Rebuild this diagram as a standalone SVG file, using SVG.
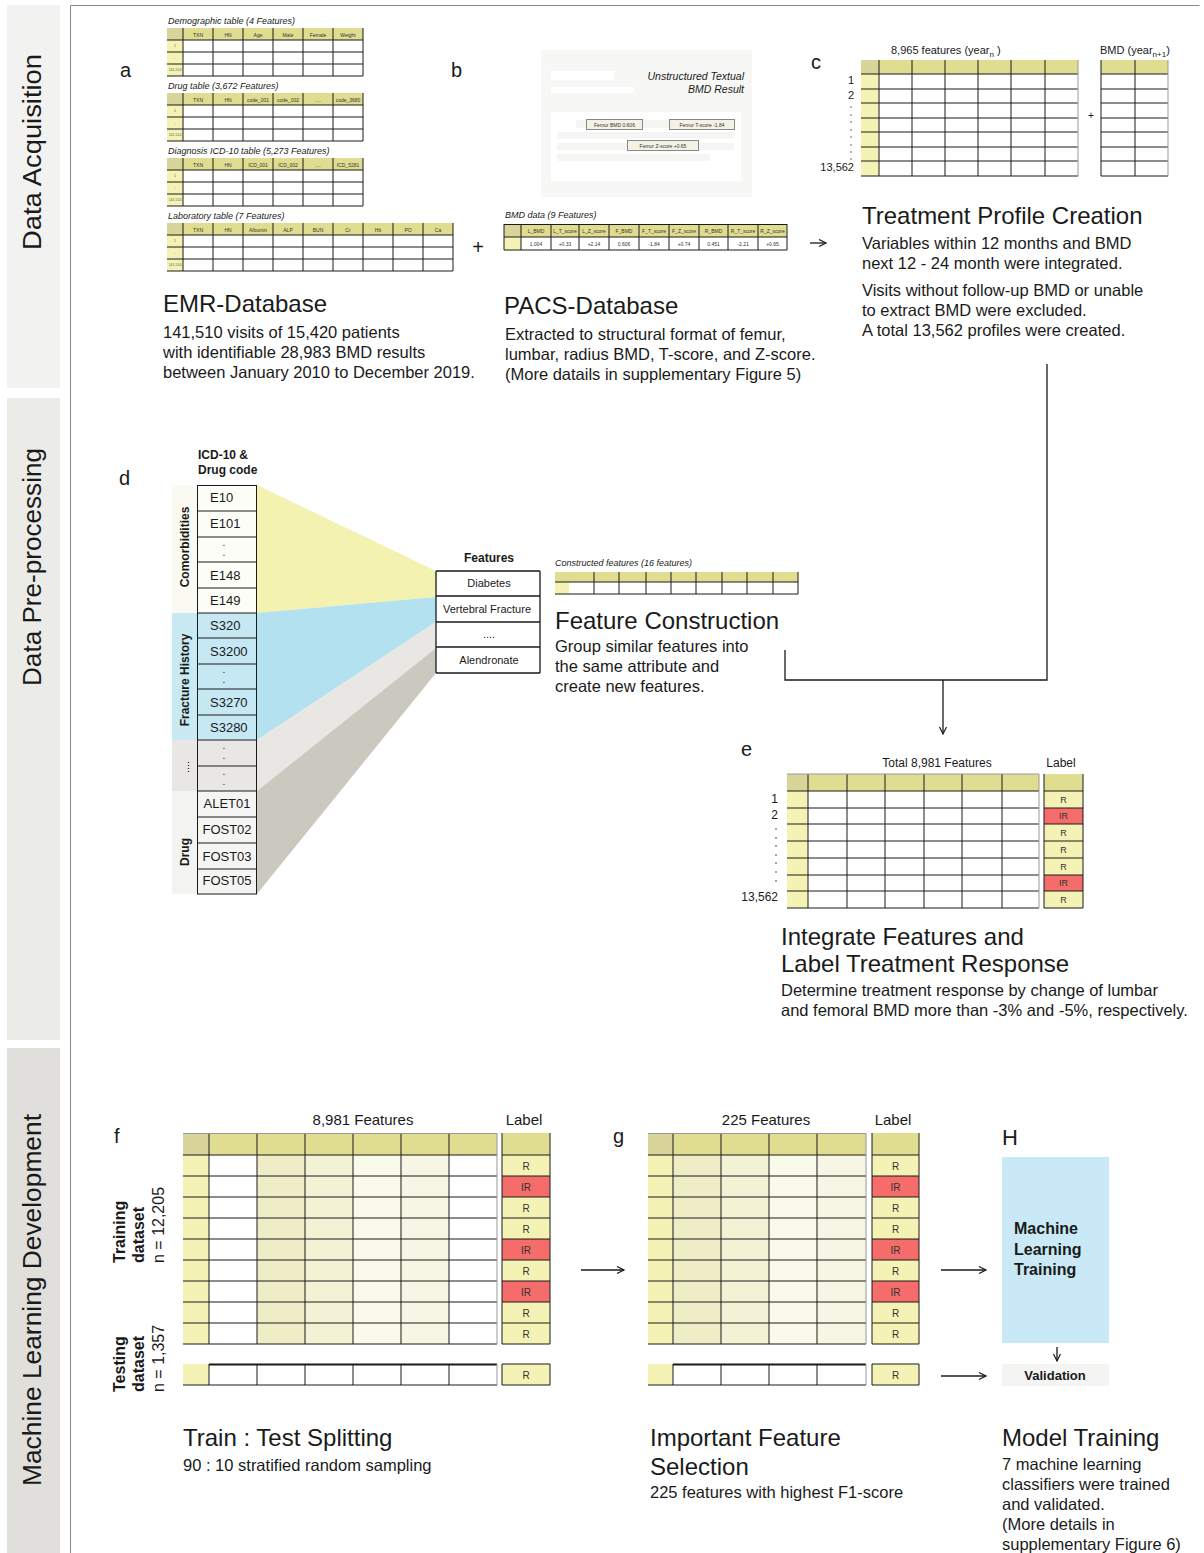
<svg xmlns="http://www.w3.org/2000/svg" width="1204" height="1553" viewBox="0 0 1204 1553">
<style>
text{font-family:"Liberation Sans",Arial,sans-serif;fill:#1a1a1a}
.band{font-size:26px}
.lab{font-size:20px}
.title{font-size:24px}
.body{font-size:16.5px}
.it{font-style:italic;font-size:9px}
.tiny{font-size:5px;text-anchor:middle;fill:#333}
.micro{font-size:3.5px;text-anchor:middle;fill:#555}
.cell{font-size:13px}
.bold{font-weight:bold}
.mid{text-anchor:middle}
.end{text-anchor:end}
.grid{stroke:#1a1a1a;stroke-width:1;fill:none}
.gray{stroke:#999;stroke-width:1;fill:none}
.hd{fill:#e1dd90}
.hc{fill:#d9d59a}
.py{fill:#f4f3b5}
.ir{fill:#f46d6a}
.wh{fill:#fff}
.c1{fill:#efedc5}
.c2{fill:#f3f2d5}
.c3{fill:#fafaeb}
.c4{fill:#f7f6e4}
.lbl{font-size:10px;text-anchor:middle;fill:#333}
.conn{stroke:#1a1a1a;stroke-width:1.3;fill:none}
</style>
<defs>
<marker id="arr" markerWidth="10" markerHeight="10" refX="8" refY="4" orient="auto" markerUnits="userSpaceOnUse">
<path d="M1,0.5 L8,4 L1,7.5" fill="none" stroke="#1a1a1a" stroke-width="1.2"/>
</marker>
<g id="emr6">
<rect x="0" y="0" width="196" height="48" fill="#fff"/>
<rect x="0" y="0" width="196" height="12" class="hd"/>
<rect x="0" y="0" width="16" height="12" class="hc"/>
<rect x="0" y="12" width="16" height="36" class="py"/>
<path class="grid" d="M0,12H196M0,24H196M0,36H196M0,48H196M16,0V48M46,0V48M76,0V48M106,0V48M136,0V48M166,0V48M196,0V48"/>
<text class="micro" x="8" y="19">1</text>
<text class="micro" x="8" y="31">-</text>
<text class="micro" x="8" y="43">141,510</text>
</g>
<g id="emr9">
<rect x="0" y="0" width="286" height="48" fill="#fff"/>
<rect x="0" y="0" width="286" height="12" class="hd"/>
<rect x="0" y="0" width="16" height="12" class="hc"/>
<rect x="0" y="12" width="16" height="36" class="py"/>
<path class="grid" d="M0,12H286M0,24H286M0,36H286M0,48H286M16,0V48M46,0V48M76,0V48M106,0V48M136,0V48M166,0V48M196,0V48M226,0V48M256,0V48M286,0V48"/>
<text class="micro" x="8" y="19">1</text>
<text class="micro" x="8" y="31">-</text>
<text class="micro" x="8" y="43">141,510</text>
</g>
</defs>

<rect width="1204" height="1553" fill="#fff"/>

<g id="bands">
<rect x="7" y="5" width="53" height="383" fill="#f2f2f0"/>
<rect x="7" y="398" width="53" height="642" fill="#ebebe8"/>
<rect x="7" y="1048" width="53" height="505" fill="#e0dfdb"/>
<text class="band mid" transform="translate(41,152) rotate(-90)" textLength="196" lengthAdjust="spacingAndGlyphs">Data Acquisition</text>
<text class="band mid" transform="translate(41,567) rotate(-90)" textLength="238" lengthAdjust="spacingAndGlyphs">Data Pre-processing</text>
<text class="band mid" transform="translate(41,1300) rotate(-90)" textLength="372" lengthAdjust="spacingAndGlyphs">Machine Learning Development</text>
<path d="M70.5,1553V5.5H1199.5" stroke="#888" stroke-width="1" fill="none"/>
</g>

<g id="node-a">
<text class="lab" x="120" y="77">a</text>
<text class="it" x="168" y="24">Demographic table (4 Features)</text>
<use href="#emr6" x="167" y="28"/>
<text class="tiny" x="198" y="36.5">TXN</text><text class="tiny" x="228" y="36.5">HN</text><text class="tiny" x="258" y="36.5">Age</text><text class="tiny" x="288" y="36.5">Male</text><text class="tiny" x="318" y="36.5">Female</text><text class="tiny" x="348" y="36.5">Weight</text>
<text class="it" x="168" y="89">Drug table (3,672 Features)</text>
<use href="#emr6" x="167" y="93"/>
<text class="tiny" x="198" y="101.5">TXN</text><text class="tiny" x="228" y="101.5">HN</text><text class="tiny" x="258" y="101.5">code_001</text><text class="tiny" x="288" y="101.5">code_002</text><text class="tiny" x="318" y="101.5">....</text><text class="tiny" x="348" y="101.5">code_3680</text>
<text class="it" x="168" y="154">Diagnosis ICD-10 table (5,273 Features)</text>
<use href="#emr6" x="167" y="158"/>
<text class="tiny" x="198" y="166.5">TXN</text><text class="tiny" x="228" y="166.5">HN</text><text class="tiny" x="258" y="166.5">ICD_001</text><text class="tiny" x="288" y="166.5">ICD_002</text><text class="tiny" x="318" y="166.5">....</text><text class="tiny" x="348" y="166.5">ICD_5281</text>
<text class="it" x="168" y="219">Laboratory table (7 Features)</text>
<use href="#emr9" x="167" y="223"/>
<text class="tiny" x="198" y="231.5">TXN</text><text class="tiny" x="228" y="231.5">HN</text><text class="tiny" x="258" y="231.5">Albumin</text><text class="tiny" x="288" y="231.5">ALP</text><text class="tiny" x="318" y="231.5">BUN</text><text class="tiny" x="348" y="231.5">Cr</text><text class="tiny" x="378" y="231.5">Hb</text><text class="tiny" x="408" y="231.5">PO</text><text class="tiny" x="438" y="231.5">Ca</text>
<text x="478" y="254" class="mid" style="font-size:20px">+</text>
<text class="title" x="163" y="312">EMR-Database</text>
<text class="body" x="163" y="338">141,510 visits of 15,420 patients</text>
<text class="body" x="163" y="358">with identifiable 28,983 BMD results</text>
<text class="body" x="163" y="378">between January 2010 to December 2019.</text>
</g>

<g id="node-b">
<text class="lab" x="451" y="77">b</text>
<rect x="541" y="50" width="211" height="147" fill="#f7f7f5"/>
<rect x="551" y="71" width="63" height="9" fill="#fff"/>
<rect x="551" y="87" width="83" height="6" fill="#fff"/>
<text x="744" y="80" class="end" style="font-size:10.5px;font-style:italic">Unstructured Textual</text>
<text x="744" y="93" class="end" style="font-size:10.5px;font-style:italic">BMD Result</text>
<rect x="551" y="112" width="190" height="69" fill="#fff"/>
<rect x="576" y="120" width="158" height="8" fill="#f5f5f3"/>
<rect x="557" y="132" width="177" height="7" fill="#f5f5f3"/>
<rect x="557" y="143" width="177" height="7" fill="#f5f5f3"/>
<rect x="557" y="154" width="153" height="7" fill="#f5f5f3"/>
<rect x="586.5" y="119.5" width="56" height="10" fill="#f3f2e4" stroke="#888"/>
<text class="tiny" x="614.5" y="126.5">Femur BMD 0.606</text>
<rect x="669.5" y="119.5" width="65" height="10" fill="#f3f2e4" stroke="#888"/>
<text class="tiny" x="702" y="126.5">Femur T-score -1.84</text>
<rect x="627.5" y="140.5" width="71" height="10" fill="#f3f2e4" stroke="#888"/>
<text class="tiny" x="663" y="147.5">Femur Z-score +0.65</text>
<text class="it" x="505" y="218">BMD data (9 Features)</text>
<rect x="504" y="224" width="283" height="26" fill="#fff"/>
<rect x="504" y="224" width="283" height="13" class="hd"/>
<rect x="504" y="224" width="17" height="13" class="hc"/>
<rect x="504" y="237" width="17" height="13" class="py"/>
<path class="grid" d="M504,224.5H787M504,237H787M504,250H787M504,224V250M521,224V250M551,224V250M579,224V250M609,224V250M639,224V250M669,224V250M699,224V250M728,224V250M758,224V250M787,224V250"/>
<text class="tiny" x="536" y="232.5">L_BMD</text><text class="tiny" x="565" y="232.5">L_T_score</text><text class="tiny" x="594" y="232.5">L_Z_score</text><text class="tiny" x="624" y="232.5">F_BMD</text><text class="tiny" x="654" y="232.5">F_T_score</text><text class="tiny" x="684" y="232.5">F_Z_score</text><text class="tiny" x="713.5" y="232.5">R_BMD</text><text class="tiny" x="743" y="232.5">R_T_score</text><text class="tiny" x="772.5" y="232.5">R_Z_score</text>
<text class="tiny" x="536" y="245.5">1.004</text><text class="tiny" x="565" y="245.5">+0.33</text><text class="tiny" x="594" y="245.5">+2.14</text><text class="tiny" x="624" y="245.5">0.606</text><text class="tiny" x="654" y="245.5">-1.84</text><text class="tiny" x="684" y="245.5">+0.74</text><text class="tiny" x="713.5" y="245.5">0.451</text><text class="tiny" x="743" y="245.5">-2.21</text><text class="tiny" x="772.5" y="245.5">+0.65</text>
<text class="title" x="504" y="314">PACS-Database</text>
<text class="body" x="505" y="340">Extracted to structural format of femur,</text>
<text class="body" x="505" y="360">lumbar, radius BMD, T-score, and Z-score.</text>
<text class="body" x="505" y="380">(More datails in supplementary Figure 5)</text>
</g>

<g id="node-c">
<text class="lab" x="811" y="69">c</text>
<text x="891" y="54" style="font-size:11px">8,965 features  (year<tspan style="font-size:8px" dy="3">n</tspan><tspan dy="-3"> )</tspan></text>
<text x="1100" y="54" style="font-size:11px">BMD (year<tspan style="font-size:8px" dy="3">n+1</tspan><tspan dy="-3">)</tspan></text>
<rect x="861" y="60" width="217" height="116" fill="#fff"/>
<rect x="861" y="60" width="217" height="14" class="hd"/>
<rect x="861" y="60" width="18" height="14" class="hc"/>
<rect x="861" y="74" width="18" height="102" class="py"/>
<path class="grid" d="M861,74H1078M861,89H1078M861,103H1078M861,118H1078M861,132H1078M861,147H1078M861,161H1078M861,176H1078M879,60V176M912,60V176M945,60V176M978,60V176M1011,60V176M1045,60V176"/>
<path class="gray" d="M1078,60V176"/>
<rect x="1101" y="60" width="67" height="116" fill="#fff"/>
<rect x="1101" y="60" width="67" height="14" class="hd"/>
<path class="grid" d="M1101,74H1168M1101,89H1168M1101,103H1168M1101,118H1168M1101,132H1168M1101,147H1168M1101,161H1168M1101,176H1168M1101,60V176M1135,60V176"/>
<path class="gray" d="M1168,60V176" stroke="#ccc"/>
<text x="1091" y="119" class="mid" style="font-size:10px">+</text>
<text x="854" y="84" class="end" style="font-size:11px">1</text>
<text x="854" y="99" class="end" style="font-size:11px">2</text>
<g fill="#333"><circle cx="851" cy="107" r="0.7"/><circle cx="851" cy="115" r="0.7"/><circle cx="851" cy="122" r="0.7"/><circle cx="851" cy="130" r="0.7"/><circle cx="851" cy="137" r="0.7"/><circle cx="851" cy="145" r="0.7"/><circle cx="851" cy="152" r="0.7"/><circle cx="851" cy="159" r="0.7"/></g>
<text x="854" y="171" class="end" style="font-size:11px">13,562</text>
<text class="title" x="862" y="224">Treatment Profile Creation</text>
<text class="body" x="862" y="249">Variables within 12 months and BMD</text>
<text class="body" x="862" y="269">next 12 - 24 month were integrated.</text>
<text class="body" x="862" y="296">Visits without follow-up BMD or unable</text>
<text class="body" x="862" y="316">to extract BMD were excluded.</text>
<text class="body" x="862" y="336">A total 13,562 profiles were created.</text>
</g>

<g id="node-d">
<text class="lab" x="119" y="485">d</text>
<text x="198" y="459" class="bold" style="font-size:12px">ICD-10 &amp;</text>
<text x="198" y="474" class="bold" style="font-size:12px">Drug code</text>
<polygon points="257,485 436,571 436,597 257,613" fill="#f3f2b0"/>
<polygon points="257,613 436,597 436,622 257,740" fill="#b3e1ef"/>
<polygon points="257,740 436,622 436,648 257,791" fill="#e8e7e3"/>
<polygon points="257,791 436,648 436,673 257,894" fill="#cbc8bf"/>
<rect x="172" y="485" width="25" height="128" fill="#fafaf2"/>
<rect x="172" y="613" width="25" height="127" fill="#c9e9f3"/>
<rect x="172" y="740" width="25" height="51" fill="#e8e7e3"/>
<rect x="172" y="791" width="25" height="103" fill="#f3f3f1"/>
<rect x="197" y="485" width="60" height="128" fill="#fdfdf8"/>
<rect x="197" y="613" width="60" height="127" fill="#c5e8f3"/>
<rect x="197" y="740" width="60" height="51" fill="#e8e7e3"/>
<rect x="197" y="791" width="60" height="103" fill="#f5f5f3"/>
<path class="grid" d="M197,485.5H257M197,511H257M197,537H257M197,562H257M197,588H257M197,613H257M197,638H257M197,664H257M197,689H257M197,715H257M197,740H257M197,766H257M197,791H257M197,817H257M197,843H257M197,869H257M197,894H257M197.5,485V894M256.5,485V894"/>
<text class="cell" x="210" y="502">E10</text>
<text class="cell" x="210" y="528">E101</text>
<text class="cell mid" x="224" y="546" style="font-size:10px">.</text>
<text class="cell mid" x="224" y="556" style="font-size:10px">.</text>
<text class="cell" x="210" y="580">E148</text>
<text class="cell" x="210" y="605">E149</text>
<text class="cell" x="210" y="630">S320</text>
<text class="cell" x="210" y="656">S3200</text>
<text class="cell mid" x="224" y="673" style="font-size:10px">.</text>
<text class="cell mid" x="224" y="683" style="font-size:10px">.</text>
<text class="cell" x="210" y="707">S3270</text>
<text class="cell" x="210" y="732">S3280</text>
<text class="cell mid" x="224" y="749" style="font-size:10px">.</text>
<text class="cell mid" x="224" y="759" style="font-size:10px">.</text>
<text class="cell mid" x="224" y="775" style="font-size:10px">.</text>
<text class="cell mid" x="224" y="785" style="font-size:10px">.</text>
<text class="cell mid" x="227" y="808">ALET01</text>
<text class="cell mid" x="227" y="834">FOST02</text>
<text class="cell mid" x="227" y="861">FOST03</text>
<text class="cell mid" x="227" y="885">FOST05</text>
<text class="bold mid" transform="translate(189,547) rotate(-90)" style="font-size:12px">Comorbidities</text>
<text class="bold mid" transform="translate(189,680) rotate(-90)" style="font-size:12px">Fracture History</text>
<text class="mid" transform="translate(189,767) rotate(-90)" style="font-size:11px">....</text>
<text class="bold mid" transform="translate(189,852) rotate(-90)" style="font-size:12px">Drug</text>
<text x="489" y="562" class="bold mid" style="font-size:12px">Features</text>
<rect x="436" y="571" width="104" height="102" fill="#fff"/>
<path class="grid" d="M436,571H540M436,596H540M436,622H540M436,647H540M436,673H540M436,571V673M540,571V673" style="stroke-width:1.3"/>
<text x="489" y="587" class="mid" style="font-size:11px">Diabetes</text>
<text x="487" y="613" class="mid" style="font-size:11px">Vertebral Fracture</text>
<text x="489" y="638" class="mid" style="font-size:11px">....</text>
<text x="489" y="664" class="mid" style="font-size:11px">Alendronate</text>
<text class="it" x="555" y="566">Constructed features (16 features)</text>
<rect x="555" y="572" width="243" height="22" fill="#fff"/>
<rect x="555" y="572" width="243" height="10" class="hd"/>
<rect x="555" y="582" width="14" height="12" class="py"/>
<path class="grid" d="M555,582H798M555,594H798M594,572V594M619,572V594M646,572V594M671,572V594M696,572V594M722,572V594M747,572V594M773,572V594M798,572V594"/>
<text class="title" x="555" y="629">Feature Construction</text>
<text class="body" x="555" y="652">Group similar features into</text>
<text class="body" x="555" y="672">the same attribute and</text>
<text class="body" x="555" y="692">create new features.</text>
</g>

<g id="connectors">
<path class="conn" d="M1047,364V680H785V650"/>
<path class="conn" d="M943,680V734" marker-end="url(#arr)"/>
<path class="conn" d="M810,243H826" marker-end="url(#arr)"/>
<path class="conn" d="M581,1270H624" marker-end="url(#arr)"/>
<path class="conn" d="M941,1270H986" marker-end="url(#arr)"/>
<path class="conn" d="M941,1376H986" marker-end="url(#arr)"/>
<path class="conn" d="M1057,1347V1361" marker-end="url(#arr)"/>
</g>

<g id="node-e">
<text class="lab" x="741" y="756">e</text>
<text x="937" y="767" class="mid" style="font-size:12px">Total 8,981 Features</text>
<text x="1061" y="767" class="mid" style="font-size:12px">Label</text>
<rect x="787" y="774" width="252" height="134" fill="#fff"/>
<rect x="787" y="774" width="252" height="17" class="hd"/>
<rect x="787" y="774" width="21" height="17" class="hc"/>
<rect x="787" y="791" width="21" height="117" class="py"/>
<path class="grid" d="M787,791H1039M787,808H1039M787,824H1039M787,841H1039M787,858H1039M787,875H1039M787,891H1039M787,908H1039M808,774V908M847,774V908M885,774V908M924,774V908M962,774V908M1002,774V908"/>
<path class="gray" d="M1039,774V908M787,774H1039"/>
<rect x="1044" y="774" width="39" height="17" class="hd"/>
<rect x="1044" y="791" width="39" height="17" class="py"/>
<rect x="1044" y="808" width="39" height="16" class="ir"/>
<rect x="1044" y="824" width="39" height="51" class="py"/>
<rect x="1044" y="875" width="39" height="16" class="ir"/>
<rect x="1044" y="891" width="39" height="17" class="py"/>
<path class="grid" d="M1044,791H1083M1044,808H1083M1044,824H1083M1044,841H1083M1044,858H1083M1044,875H1083M1044,891H1083M1044,908H1083M1044,774V908M1083,774V908"/>
<text class="lbl" x="1063.5" y="803" style="font-size:9px">R</text>
<text class="lbl" x="1063.5" y="819" style="font-size:9px">IR</text>
<text class="lbl" x="1063.5" y="836" style="font-size:9px">R</text>
<text class="lbl" x="1063.5" y="853" style="font-size:9px">R</text>
<text class="lbl" x="1063.5" y="870" style="font-size:9px">R</text>
<text class="lbl" x="1063.5" y="886" style="font-size:9px">IR</text>
<text class="lbl" x="1063.5" y="903" style="font-size:9px">R</text>
<text x="778" y="803" class="end" style="font-size:12px">1</text>
<text x="778" y="819" class="end" style="font-size:12px">2</text>
<g fill="#333"><circle cx="776" cy="829" r="0.8"/><circle cx="776" cy="838" r="0.8"/><circle cx="776" cy="846" r="0.8"/><circle cx="776" cy="855" r="0.8"/><circle cx="776" cy="863" r="0.8"/><circle cx="776" cy="872" r="0.8"/><circle cx="776" cy="881" r="0.8"/></g>
<text x="778" y="901" class="end" style="font-size:12px">13,562</text>
<text class="title" x="781" y="945">Integrate Features and</text>
<text class="title" x="781" y="972">Label Treatment Response</text>
<text class="body" x="781" y="996">Determine treatment response by change of lumbar</text>
<text class="body" x="781" y="1016">and femoral BMD more than -3% and -5%, respectively.</text>
</g>

<g id="node-f">
<text class="lab" x="114" y="1143">f</text>
<text x="363" y="1125" class="mid" style="font-size:15px">8,981 Features</text>
<text x="524" y="1125" class="mid" style="font-size:15px">Label</text>
<rect x="183" y="1133" width="314" height="22" class="hd"/>
<rect x="183" y="1133" width="26" height="22" class="hc"/>
<rect x="183" y="1155" width="26" height="189" class="py"/>
<rect x="209" y="1155" width="48" height="189" class="wh"/>
<rect x="257" y="1155" width="48" height="189" class="c1"/>
<rect x="305" y="1155" width="48" height="189" class="c2"/>
<rect x="353" y="1155" width="48" height="189" class="c3"/>
<rect x="401" y="1155" width="48" height="189" class="c4"/>
<rect x="449" y="1155" width="48" height="189" class="wh"/>
<path class="grid" d="M183,1155H497M183,1176H497M183,1197H497M183,1218H497M183,1239H497M183,1260H497M183,1281H497M183,1302H497M183,1323H497M183,1344H497M209,1133V1344M257,1133V1344M305,1133V1344M353,1133V1344M401,1133V1344M449,1133V1344"/>
<path class="gray" d="M183,1133.5H497M497,1133V1344"/>
<rect x="502" y="1133" width="48" height="22" class="hd"/>
<rect x="502" y="1155" width="48" height="21" class="py"/>
<rect x="502" y="1176" width="48" height="21" class="ir"/>
<rect x="502" y="1197" width="48" height="42" class="py"/>
<rect x="502" y="1239" width="48" height="21" class="ir"/>
<rect x="502" y="1260" width="48" height="21" class="py"/>
<rect x="502" y="1281" width="48" height="21" class="ir"/>
<rect x="502" y="1302" width="48" height="42" class="py"/>
<path class="grid" d="M502,1133V1344M550,1133V1344M502,1155H550M502,1176H550M502,1197H550M502,1218H550M502,1239H550M502,1260H550M502,1281H550M502,1302H550M502,1323H550M502,1344H550"/>
<text class="lbl" x="526" y="1169.5">R</text>
<text class="lbl" x="526" y="1190.5">IR</text>
<text class="lbl" x="526" y="1211.5">R</text>
<text class="lbl" x="526" y="1232.5">R</text>
<text class="lbl" x="526" y="1253.5">IR</text>
<text class="lbl" x="526" y="1274.5">R</text>
<text class="lbl" x="526" y="1295.5">IR</text>
<text class="lbl" x="526" y="1316.5">R</text>
<text class="lbl" x="526" y="1337.5">R</text>
<rect x="183" y="1364" width="26" height="21" class="py"/>
<rect x="209" y="1364" width="288" height="21" class="wh"/>
<path class="grid" d="M183,1385H497M209,1364V1385M257,1364V1385M305,1364V1385M353,1364V1385M401,1364V1385M449,1364V1385"/>
<path d="M209,1364.5H497" stroke="#1a1a1a" stroke-width="2"/>
<path class="gray" d="M497,1364V1385"/>
<rect x="502" y="1364" width="48" height="21" class="py"/>
<path class="grid" d="M502,1364H550V1385H502Z"/>
<text class="lbl" x="526" y="1379">R</text>
<text class="bold" transform="translate(125,1263) rotate(-90)" style="font-size:16px">Training</text>
<text class="bold" transform="translate(144,1263) rotate(-90)" style="font-size:16px">dataset</text>
<text transform="translate(164,1263) rotate(-90)" style="font-size:16px">n = 12,205</text>
<text class="bold" transform="translate(125,1392) rotate(-90)" style="font-size:16px">Testing</text>
<text class="bold" transform="translate(144,1392) rotate(-90)" style="font-size:16px">dataset</text>
<text transform="translate(164,1392) rotate(-90)" style="font-size:16px">n = 1,357</text>
<text class="title" x="183" y="1446">Train : Test Splitting</text>
<text class="body" x="183" y="1471">90 : 10 stratified random sampling</text>
</g>

<g id="node-g">
<text class="lab" x="613" y="1143">g</text>
<text x="766" y="1125" class="mid" style="font-size:15px">225 Features</text>
<text x="893" y="1125" class="mid" style="font-size:15px">Label</text>
<rect x="648" y="1133" width="218" height="22" class="hd"/>
<rect x="648" y="1133" width="25" height="22" class="hc"/>
<rect x="648" y="1155" width="25" height="189" class="py"/>
<rect x="673" y="1155" width="48" height="189" class="c1"/>
<rect x="721" y="1155" width="48" height="189" class="c2"/>
<rect x="769" y="1155" width="48" height="189" class="c3"/>
<rect x="817" y="1155" width="49" height="189" class="c4"/>
<path class="grid" d="M648,1155H866M648,1176H866M648,1197H866M648,1218H866M648,1239H866M648,1260H866M648,1281H866M648,1302H866M648,1323H866M648,1344H866M673,1133V1344M721,1133V1344M769,1133V1344M817,1133V1344"/>
<path class="gray" d="M648,1133.5H866M866,1133V1344"/>
<rect x="872" y="1133" width="47" height="22" class="hd"/>
<rect x="872" y="1155" width="47" height="21" class="py"/>
<rect x="872" y="1176" width="47" height="21" class="ir"/>
<rect x="872" y="1197" width="47" height="42" class="py"/>
<rect x="872" y="1239" width="47" height="21" class="ir"/>
<rect x="872" y="1260" width="47" height="21" class="py"/>
<rect x="872" y="1281" width="47" height="21" class="ir"/>
<rect x="872" y="1302" width="47" height="42" class="py"/>
<path class="grid" d="M872,1133V1344M919,1133V1344M872,1155H919M872,1176H919M872,1197H919M872,1218H919M872,1239H919M872,1260H919M872,1281H919M872,1302H919M872,1323H919M872,1344H919"/>
<text class="lbl" x="895.5" y="1169.5">R</text>
<text class="lbl" x="895.5" y="1190.5">IR</text>
<text class="lbl" x="895.5" y="1211.5">R</text>
<text class="lbl" x="895.5" y="1232.5">R</text>
<text class="lbl" x="895.5" y="1253.5">IR</text>
<text class="lbl" x="895.5" y="1274.5">R</text>
<text class="lbl" x="895.5" y="1295.5">IR</text>
<text class="lbl" x="895.5" y="1316.5">R</text>
<text class="lbl" x="895.5" y="1337.5">R</text>
<rect x="648" y="1364" width="25" height="21" class="py"/>
<rect x="673" y="1364" width="193" height="21" class="wh"/>
<path class="grid" d="M648,1385H866M673,1364V1385M721,1364V1385M769,1364V1385M817,1364V1385"/>
<path d="M673,1364.5H866" stroke="#1a1a1a" stroke-width="2"/>
<path class="gray" d="M866,1364V1385"/>
<rect x="872" y="1364" width="47" height="21" class="py"/>
<path class="grid" d="M872,1364H919V1385H872Z"/>
<text class="lbl" x="895.5" y="1379">R</text>
<text class="title" x="650" y="1446">Important Feature</text>
<text class="title" x="650" y="1475">Selection</text>
<text class="body" x="650" y="1498">225 features with highest F1-score</text>
</g>

<g id="node-h">
<text x="1002" y="1145" style="font-size:22px">H</text>
<rect x="1002" y="1157" width="107" height="186" fill="#c8e9f5"/>
<text x="1014" y="1234" class="bold" style="font-size:16px">Machine</text>
<text x="1014" y="1255" class="bold" style="font-size:16px">Learning</text>
<text x="1014" y="1275" class="bold" style="font-size:16px">Training</text>
<rect x="1002" y="1364" width="107" height="22" fill="#f4f4f2"/>
<text x="1055" y="1380" class="bold mid" style="font-size:13px">Validation</text>
<text class="title" x="1002" y="1446">Model Training</text>
<text class="body" x="1002" y="1470">7 machine learning</text>
<text class="body" x="1002" y="1490">classifiers were trained</text>
<text class="body" x="1002" y="1510">and validated.</text>
<text class="body" x="1002" y="1530">(More details in</text>
<text class="body" x="1002" y="1550">supplementary Figure 6)</text>
</g>
</svg>
